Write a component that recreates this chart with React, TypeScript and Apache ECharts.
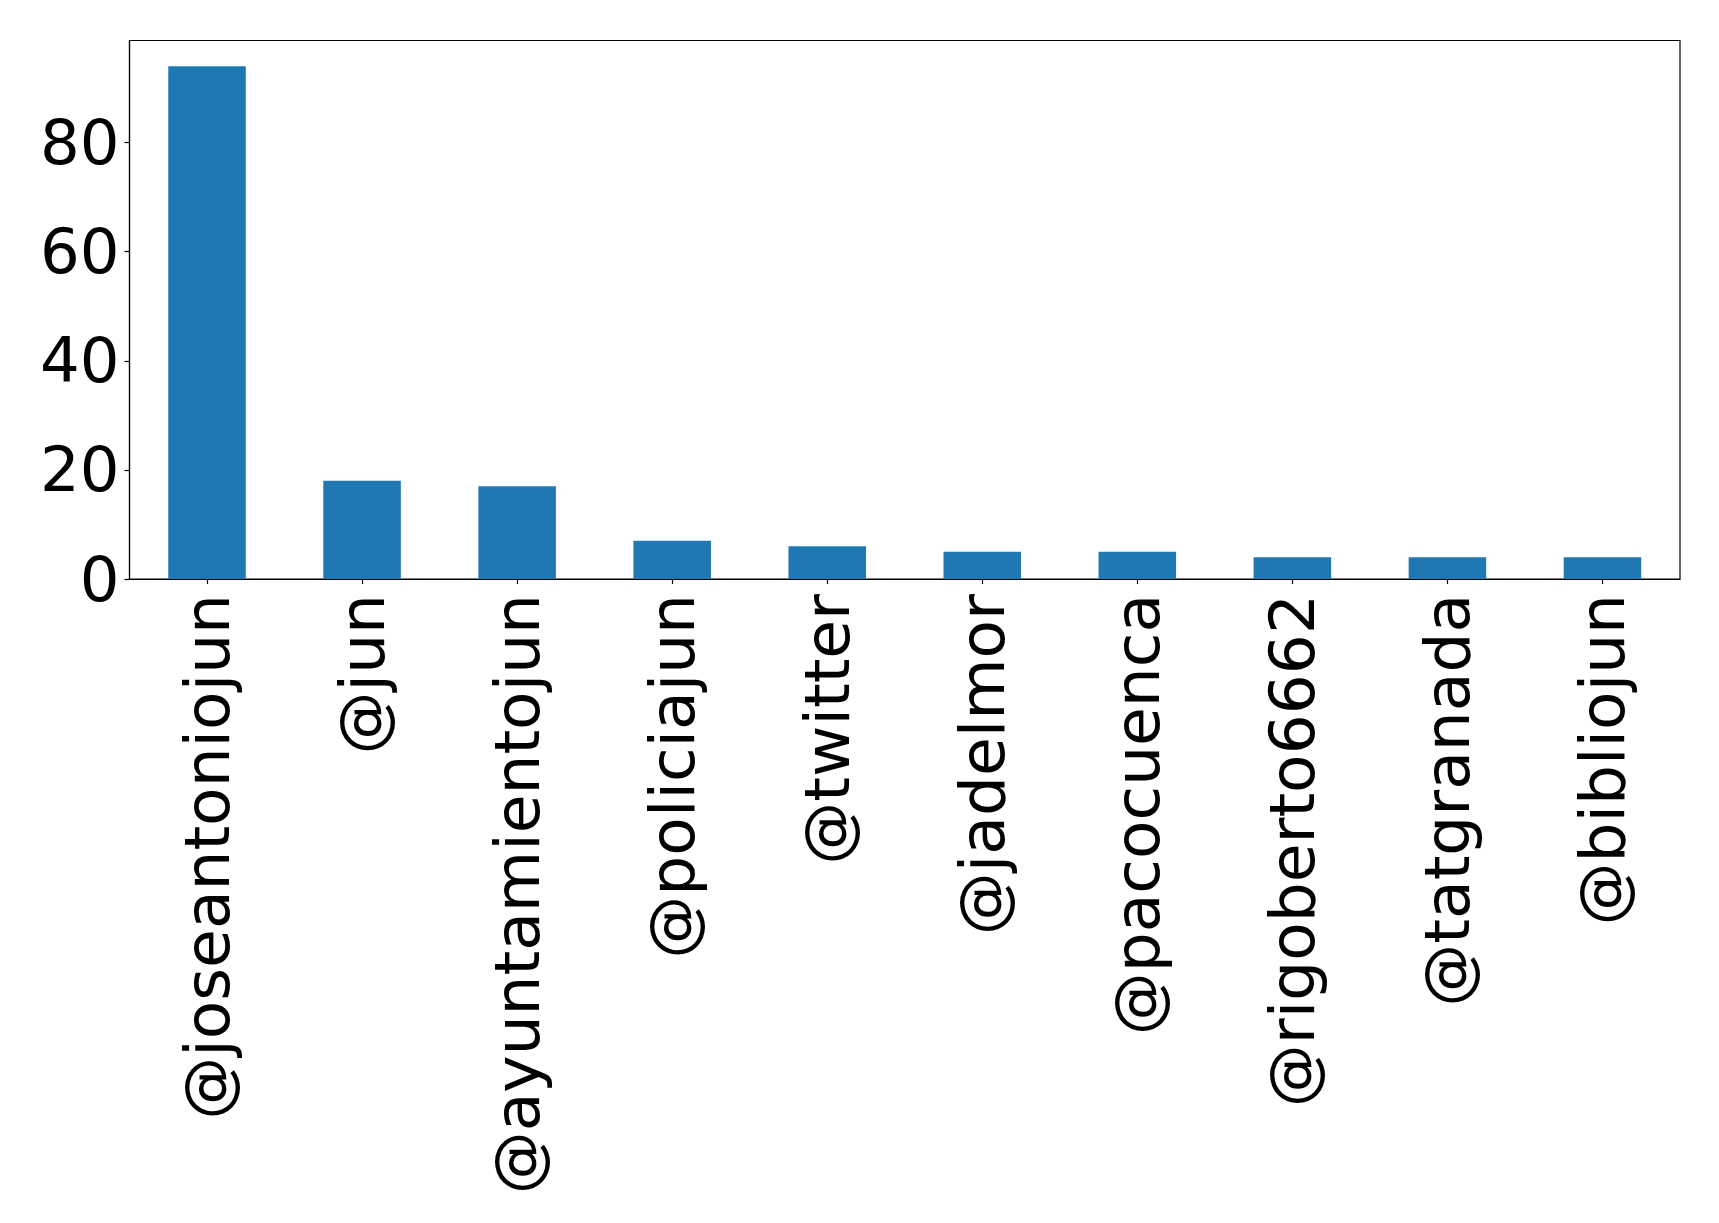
import React, { useEffect, useRef } from "react";
import * as echarts from "echarts";

const categories = [
  "@joseantoniojun",
  "@jun",
  "@ayuntamientojun",
  "@policiajun",
  "@twitter",
  "@jadelmor",
  "@pacocuenca",
  "@rigoberto6662",
  "@tatgranada",
  "@bibliojun",
];
const values = [94, 18, 17, 7, 6, 5, 5, 4, 4, 4];
const yTicks = [0, 20, 40, 60, 80];

const FONT = "DejaVu Sans";
const FS = 62.5;

export default function App() {
  const ref = useRef<HTMLDivElement>(null);
  useEffect(() => {
    document.body.style.margin = "0";
    const chart = echarts.init(ref.current!, null, { renderer: "svg" });
    chart.setOption({
      animation: false,
      backgroundColor: "#ffffff",
      grid: {
        left: 129.5,
        top: 40.5,
        width: 1550.5,
        height: 538.5,
        show: true,
        borderColor: "#000000",
        borderWidth: 1.2,
        backgroundColor: "transparent",
      },
      xAxis: {
        type: "category",
        data: categories,
        boundaryGap: true,
        axisLine: { show: true, lineStyle: { color: "#000", width: 1.2 } },
        axisTick: { show: true, alignWithLabel: true, length: 5, lineStyle: { color: "#000", width: 1.2 } },
        axisLabel: {
          rotate: 90,
          interval: 0,
          margin: 15,
          color: "#000",
          fontFamily: FONT,
          fontSize: 63,
        },
        splitLine: { show: false },
      },
      yAxis: {
        type: "value",
        min: 0,
        max: 98.7,
        interval: 20,
        axisLine: { show: true, lineStyle: { color: "#000", width: 1.2 } },
        axisTick: { show: true, length: 5, customValues: yTicks, lineStyle: { color: "#000", width: 1.2 } },
        axisLabel: {
          customValues: yTicks,
          margin: 10,
          color: "#000",
          fontFamily: FONT,
          fontSize: FS,
        },
        splitLine: { show: false },
      },
      series: [
        {
          type: "bar",
          data: values,
          barWidth: "50%",
          itemStyle: { color: "#1f77b4" },
        },
      ],
    });
    return () => chart.dispose();
  }, []);
  return <div ref={ref} style={{ width: 1719, height: 1223 }} />;
}
